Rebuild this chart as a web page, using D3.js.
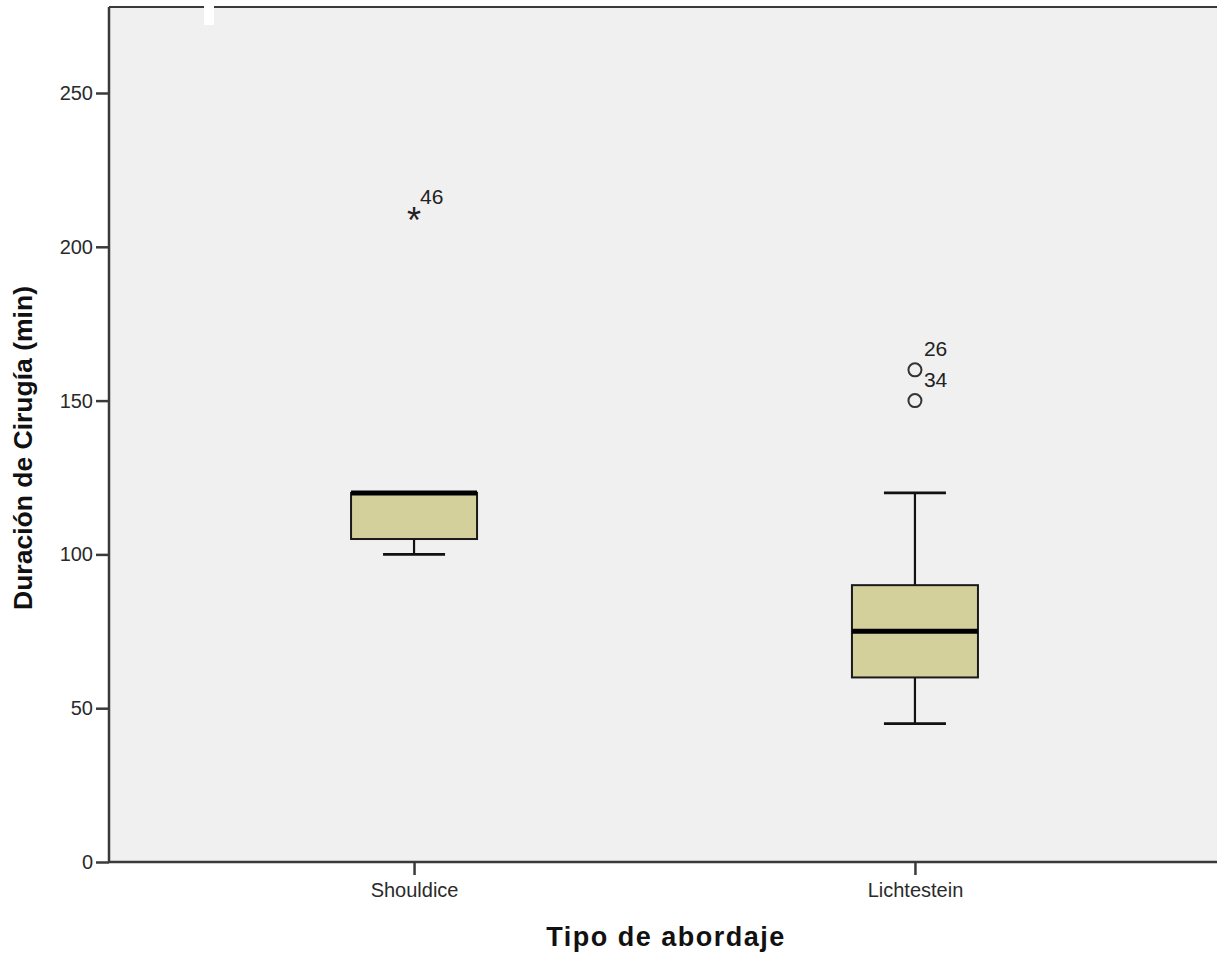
<!DOCTYPE html>
<html><head><meta charset="utf-8">
<script src="https://cdn.jsdelivr.net/npm/d3@7"></script>
<style>body{margin:0;background:#fff;} svg{display:block;}</style>
</head><body>
<script>
const categories = ["Shouldice", "Lichtestein"];
const q1 = [105, 60];
const median = [120, 75];
const q3 = [120, 90];
const whiskerLow = [100, 45];
const whiskerHigh = [120, 120];
const outliers = [
  {cat: "Shouldice", value: 210, label: "46", type: "extreme"},
  {cat: "Lichtestein", value: 160, label: "26", type: "mild"},
  {cat: "Lichtestein", value: 150, label: "34", type: "mild"}
];
const yTicks = [0, 50, 100, 150, 200, 250];

(function(){
const W = 1217, H = 955;
const pL = 109, pT = 7, pR = 1217, pB = 862;
const FONT = "Liberation Sans, Arial, sans-serif";
const svg = d3.select("body").append("svg").attr("width", W).attr("height", H);

const y = d3.scaleLinear().domain([0, 250]).range([pB, 93]);
const x = d3.scalePoint().domain(categories).range([pL, 1220]).padding(0.609);

svg.append("rect").attr("x", pL).attr("y", pT).attr("width", pR - pL).attr("height", pB - pT).attr("fill", "#f0f0f0");
svg.append("line").attr("x1", pL).attr("x2", pR).attr("y1", pT).attr("y2", pT).attr("stroke", "#3a3a3a").attr("stroke-width", 2);
svg.append("rect").attr("x", 204).attr("y", 0).attr("width", 10).attr("height", 25).attr("fill", "#fff");

const boxW = 126, capW = 62;
const g = svg.append("g");
categories.forEach((c, i) => {
  const cx = x(c);
  g.append("line").attr("x1", cx).attr("x2", cx).attr("y1", y(whiskerLow[i])).attr("y2", y(q1[i])).attr("stroke", "#111").attr("stroke-width", 2.2);
  g.append("line").attr("x1", cx).attr("x2", cx).attr("y1", y(q3[i])).attr("y2", y(whiskerHigh[i])).attr("stroke", "#111").attr("stroke-width", 2.2);
  g.append("line").attr("x1", cx - capW/2).attr("x2", cx + capW/2).attr("y1", y(whiskerLow[i])).attr("y2", y(whiskerLow[i])).attr("stroke", "#111").attr("stroke-width", 2.8);
  if (whiskerHigh[i] > q3[i]) g.append("line").attr("x1", cx - capW/2).attr("x2", cx + capW/2).attr("y1", y(whiskerHigh[i])).attr("y2", y(whiskerHigh[i])).attr("stroke", "#111").attr("stroke-width", 2.8);
  g.append("rect").attr("x", cx - boxW/2).attr("y", y(q3[i])).attr("width", boxW).attr("height", y(q1[i]) - y(q3[i]))
    .attr("fill", "#d4d09b").attr("stroke", "#1a1a1a").attr("stroke-width", 2);
  g.append("line").attr("x1", cx - boxW/2).attr("x2", cx + boxW/2).attr("y1", y(median[i])).attr("y2", y(median[i])).attr("stroke", "#000").attr("stroke-width", 5);
});

outliers.forEach(o => {
  const cx = x(o.cat), cy = y(o.value);
  if (o.type === "extreme") {
    g.append("text").attr("x", cx).attr("y", cy + 17).attr("text-anchor", "middle").attr("font-family", FONT).attr("font-size", 36).attr("fill", "#222").text("*");
    g.append("text").attr("x", cx + 6).attr("y", cy - 12).attr("font-family", FONT).attr("font-size", 21).attr("fill", "#222").text(o.label);
  } else {
    g.append("circle").attr("cx", cx).attr("cy", cy).attr("r", 6.5).attr("fill", "none").attr("stroke", "#333").attr("stroke-width", 2);
    g.append("text").attr("x", cx + 9).attr("y", cy - 14).attr("font-family", FONT).attr("font-size", 21).attr("fill", "#222").text(o.label);
  }
});

const yAxis = svg.append("g").attr("transform", `translate(${pL},0)`)
  .call(d3.axisLeft(y).tickValues(yTicks).tickSize(13).tickPadding(3));
const xAxis = svg.append("g").attr("transform", `translate(0,${pB})`)
  .call(d3.axisBottom(x).tickSize(13).tickPadding(8));
[yAxis, xAxis].forEach(a => {
  a.select(".domain").attr("stroke", "#3a3a3a").attr("stroke-width", 2.5);
  a.selectAll(".tick line").attr("stroke", "#3a3a3a").attr("stroke-width", 2.5);
  a.selectAll(".tick text").attr("font-family", FONT).attr("font-size", 20).attr("fill", "#2a2a2a");
});
xAxis.select(".domain").attr("d", `M${pL},0H${pR}`);
yAxis.select(".domain").attr("d", `M0,${pT}V${pB}`);

svg.append("text").attr("transform", `translate(32,448) rotate(-90)`).attr("text-anchor", "middle")
  .attr("font-family", FONT).attr("font-weight", "bold").attr("font-size", 26.5).attr("fill", "#111")
  .text("Duración de Cirugía (min)");
svg.append("text").attr("x", 666).attr("y", 946).attr("text-anchor", "middle")
  .attr("font-family", FONT).attr("font-weight", "bold").attr("font-size", 27).attr("letter-spacing", 1.5).attr("fill", "#111")
  .text("Tipo de abordaje");
})();
</script>
</body></html>
